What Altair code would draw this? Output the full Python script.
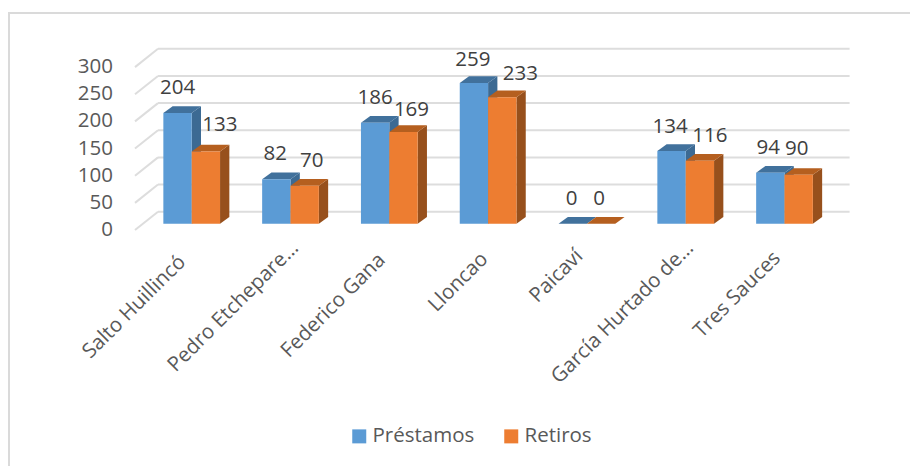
import altair as alt
import pandas as pd

CATEGORIES = ["Salto Huillincó", "Pedro Etchepare…", "Federico Gana", "Lloncao", "Paicaví", "García Hurtado de…", "Tres Sauces"]
PRESTAMOS = [204, 82, 186, 259, 0, 134, 94]
RETIROS = [133, 70, 169, 233, 0, 116, 90]
TICKS = [0, 50, 100, 150, 200, 250, 300]
SERIES = ["Préstamos", "Retiros"]
COLORS = ["#5B9BD5", "#ED7D31"]
TOP_COLORS = ["#41719C", "#B55F1F"]
SIDE_COLORS = ["#3C6A93", "#97501C"]
# label nudges (px) from the automatic bar-centre placement
NUDGE_P = [0, -1, 0, -1, -1, -1.5, -2]
NUDGE_R = [14, 7, 8, 18, -2, 10, -2]
LIFT_P = [25, 25, 25, 23, 25, 24, 25]
LIFT_R = [26, 25, 22, 23, 25, 25, 26]
CAT_NUDGE_X = [-2, 12, 0, 4, 0, 12, 0]
CAT_NUDGE_Y = [4, -10, 2, 1, -2, -10, 0]

W, H = 902, 458
STEP = 98.8
UNIT = 0.543
x_scale = alt.Scale(domain=[-127 / STEP, (W - 127) / STEP], range=[0, W], nice=False, zero=False)
y_scale = alt.Scale(domain=[(222 - H) / UNIT, 222 / UNIT], range=[H, 0], nice=False, zero=False)

DEPTH_X = 23 / STEP
DEPTH_Y = 18.3 / UNIT
BASE_X = 7.3 / STEP
BASE_Y = 6.3 / UNIT
BAR_W = 28.35 / STEP
BAR_DX = 9.3 / STEP
BAR_DY = 6.7 / UNIT


def X(f="u"):
    return alt.X(f"{f}:Q", scale=x_scale, axis=None)


def Y(f="v"):
    return alt.Y(f"{f}:Q", scale=y_scale, axis=None)


# grid: left wall diagonals and back-wall lines
diag, back = [], []
for t in TICKS:
    diag += [dict(t=t, u=0, v=t), dict(t=t, u=DEPTH_X, v=t + DEPTH_Y)]
    back += [dict(t=t, u=DEPTH_X, v=t + DEPTH_Y), dict(t=t, u=7 + DEPTH_X, v=t + DEPTH_Y)]
grid = alt.Chart(pd.DataFrame(diag + back).assign(k=[0] * 14 + [1] * 14)).mark_line(
    color="#DDDDDD", strokeWidth=2
).encode(x=X(), y=Y(), detail=["t:N", "k:N"])

# frame (top and left edges only)
frame_top = alt.Chart(pd.DataFrame({"a": [0]})).mark_rule(color="#DADADA", strokeWidth=2).encode(
    x=alt.value(0), x2=alt.value(W), y=alt.value(5)
)
frame_left = alt.Chart(pd.DataFrame({"a": [0]})).mark_rule(color="#DADADA", strokeWidth=2).encode(
    x=alt.value(1), y=alt.value(4), y2=alt.value(H)
)

layers = [frame_top, frame_left, grid]
for s, (name, vals, c, tc, sc) in enumerate(zip(SERIES, [PRESTAMOS, RETIROS], COLORS, TOP_COLORS, SIDE_COLORS)):
    fr, side, top = [], [], []
    for i, (cat, val) in enumerate(zip(CATEGORIES, vals)):
        u0 = i + 0.5 + BASE_X - BAR_W + s * BAR_W
        u1 = u0 + BAR_W
        v0, v1 = BASE_Y, BASE_Y + val
        fr.append(dict(series=name, u=u0, u2=u1, v=v0, v2=v1))
        side += [
            dict(bar=i, u=u1, v=v1, v2=v0),
            dict(bar=i, u=u1 + BAR_DX, v=v1 + BAR_DY, v2=v0 + BAR_DY),
        ]
        top += [
            dict(bar=i, v=v1, u=u0, u2=u1),
            dict(bar=i, v=v1 + BAR_DY, u=u0 + BAR_DX, u2=u1 + BAR_DX),
        ]
    layers.append(
        alt.Chart(pd.DataFrame(side)).mark_area(color=sc, orient="vertical").encode(
            x=X(), y=Y(), y2=alt.Y2("v2:Q"), detail="bar:N"
        )
    )
    layers.append(
        alt.Chart(pd.DataFrame(top)).mark_area(color=tc, orient="horizontal").encode(
            y=Y(), x=X(), x2=alt.X2("u2:Q"), detail="bar:N"
        )
    )
    layers.append(
        alt.Chart(pd.DataFrame(fr)).mark_rect().encode(
            x=X(), x2=alt.X2("u2:Q"), y=Y(), y2=alt.Y2("v2:Q"),
            color=alt.Color(
                "series:N",
                scale=alt.Scale(domain=SERIES, range=COLORS),
                legend=alt.Legend(
                    title=None, orient="none", direction="horizontal", legendX=341, legendY=418,
                    symbolType="square", symbolSize=196, symbolStrokeWidth=0, symbolOpacity=1,
                    labelFont="Open Sans", labelFontSize=20.5, labelColor="#595959",
                    columnPadding=26, labelOffset=3, padding=0,
                ),
            ),
        )
    )

# value labels
labels = []
for s, (vals, nudges, lifts) in enumerate(zip([PRESTAMOS, RETIROS], [NUDGE_P, NUDGE_R], [LIFT_P, LIFT_R])):
    for i, (val, n, l) in enumerate(zip(vals, nudges, lifts)):
        centre = i + 0.5 + BASE_X - BAR_W / 2 + s * BAR_W
        labels.append(dict(u=centre + n / STEP, v=BASE_Y + val + l / UNIT, label=str(val)))
value_text = alt.Chart(pd.DataFrame(labels)).mark_text(
    font="Open Sans", fontSize=20.5, color="#404040", baseline="middle", align="center"
).encode(x=X(), y=Y(), text="label:N")

# value axis labels
axis_df = pd.DataFrame({"v": TICKS, "u": [-22 / STEP] * len(TICKS), "label": [str(t) for t in TICKS]})
axis_text = alt.Chart(axis_df).mark_text(
    font="Open Sans", fontSize=20.5, color="#595959", baseline="middle", align="right"
).encode(x=X(), y=Y(), text="label:N")

# category labels
cat_df = pd.DataFrame({
    "u": [i + 0.5 + n / STEP for i, n in enumerate(CAT_NUDGE_X)],
    "v": [-46 - n / UNIT for n in CAT_NUDGE_Y],
    "label": CATEGORIES,
})
cat_text = alt.Chart(cat_df).mark_text(
    font="Open Sans", fontSize=20.5, color="#595959", baseline="middle", align="right", angle=315
).encode(x=X(), y=Y(), text="label:N")

chart = alt.layer(*layers, value_text, axis_text, cat_text).properties(
    width=W, height=H, padding=0, autosize=alt.AutoSizeParams(type="none")
).configure_view(stroke=None)

chart.save("out.html", embed_options={"renderer": "svg", "actions": False})
